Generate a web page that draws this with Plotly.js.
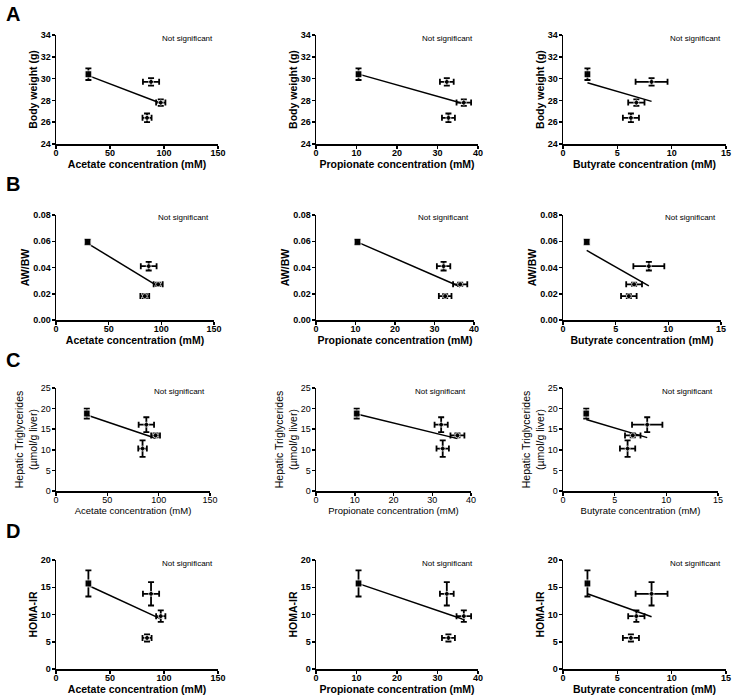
<!DOCTYPE html>
<html>
<head>
<meta charset="utf-8">
<script src="https://cdn.plot.ly/plotly-3.0.1.min.js"></script>
<style>
  html, body { margin: 0; padding: 0; background: #fff; }
  #chart { width: 733px; height: 697px; }
</style>
</head>
<body>
<div id="chart"></div>
<script>
// Group means (4 groups), x = SCFA concentration, y = outcome
const acetate = [30, 88, 97, 84.3];
const acetateErr = [1.5, 7.5, 4.3, 4.2];
const propionate = [10.5, 32.3, 36.5, 32.7];
const propionateErr = [0.4, 1.7, 1.8, 1.6];
const butyrate = [2.25, 8.15, 6.75, 6.25];
const butyrateErr = [0.15, 1.47, 0.75, 0.74];

const bodyWeight = [30.4, 29.7, 27.8, 26.4];
const bodyWeightErr = [0.53, 0.34, 0.3, 0.4];
const awbw = [0.0595, 0.041, 0.0272, 0.0182];
const awbwErr = [0.002, 0.0033, 0.0012, 0.0015];
const hepaticTG = [18.8, 16.1, 13.5, 10.3];
const hepaticTGErr = [1.2, 1.8, 0.5, 2.0];
const homaIR = [15.7, 13.8, 9.7, 5.7];
const homaIRErr = [2.4, 2.15, 1.05, 0.65];

const xLabels = ['Acetate concentration (mM)', 'Propionate concentration (mM)', 'Butyrate concentration (mM)'];
const xRanges = [[0, 150], [0, 40], [0, 15]];
const xTicks = [[0, 50, 100, 150], [0, 10, 20, 30, 40], [0, 5, 10, 15]];

const rowLetters = ['A', 'B', 'C', 'D'];
const yLabels = ['Body weight (g)', 'AW/BW', 'Hepatic Triglycerides<br>(µmol/g liver)', 'HOMA-IR'];
const yRanges = [[24, 34], [0, 0.08], [0, 25], [0, 20]];
const yTicks = [[24, 26, 28, 30, 32, 34], [0, 0.02, 0.04, 0.06, 0.08], [0, 5, 10, 15, 20, 25], [0, 5, 10, 15, 20]];
const yFormats = ['', '.2f', '', ''];

const xs = [acetate, propionate, butyrate];
const xErrs = [acetateErr, propionateErr, butyrateErr];
const ys = [bodyWeight, awbw, hepaticTG, homaIR];
const yErrs = [bodyWeightErr, awbwErr, hepaticTGErr, homaIRErr];

// pixel boxes of the plot areas
const W = 733, H = 697;
const rowPx = [[35, 144], [215, 320], [388, 491], [560, 669]];
const colPx = [
  [[56, 218], [316, 478], [563, 726]],
  [[56, 214], [316, 474], [563, 721]],
  [[56, 210], [316, 471], [563, 718]],
  [[56, 218], [316, 478], [563, 726]]
];
const letterY = [14, 184, 360, 531];

function regression(x, y) {
  const n = x.length;
  const mx = x.reduce((a, b) => a + b, 0) / n;
  const my = y.reduce((a, b) => a + b, 0) / n;
  let sxy = 0, sxx = 0;
  for (let i = 0; i < n; i++) {
    sxy += (x[i] - mx) * (y[i] - my);
    sxx += (x[i] - mx) * (x[i] - mx);
  }
  const slope = sxy / sxx;
  const x0 = Math.min(...x), x1 = Math.max(...x);
  return { x: [x0, x1], y: [my + slope * (x0 - mx), my + slope * (x1 - mx)] };
}

const data = [];
const layout = {
  width: W,
  height: H,
  margin: { l: 0, r: 0, t: 0, b: 0 },
  paper_bgcolor: '#fff',
  plot_bgcolor: '#fff',
  showlegend: false,
  font: { family: 'Arial, Liberation Sans, sans-serif', color: '#000' },
  annotations: []
};

for (let r = 0; r < 4; r++) {
  const plain = r === 2;
  const weight = plain ? 'normal' : 'bold';
  for (let c = 0; c < 3; c++) {
    const k = r * 3 + c + 1;
    const xa = 'x' + (k === 1 ? '' : k);
    const ya = 'y' + (k === 1 ? '' : k);
    const [px0, px1] = colPx[r][c];
    const [py0, py1] = rowPx[r];

    const fit = regression(xs[c], ys[r]);
    data.push({
      type: 'scatter', mode: 'lines',
      x: fit.x, y: fit.y,
      xaxis: xa, yaxis: ya,
      line: { color: '#000', width: 1.5 },
      hoverinfo: 'skip'
    });
    data.push({
      type: 'scatter', mode: 'markers',
      x: xs[c], y: ys[r],
      xaxis: xa, yaxis: ya,
      marker: {
        color: '#000',
        symbol: ['square', 'circle', 'circle', 'circle'],
        size: [7, 5, 5, 5]
      },
      error_x: { type: 'data', array: xErrs[c], visible: true, color: '#000', thickness: 1.8, width: 3 },
      error_y: { type: 'data', array: yErrs[r], visible: true, color: '#000', thickness: 1.8, width: 3 }
    });

    const axisBase = {
      showline: true, linecolor: '#000', linewidth: 1.5,
      ticks: 'outside', ticklen: 3, tickwidth: 1.5, tickcolor: '#000',
      showgrid: false, zeroline: false, automargin: false, fixedrange: true,
      tickfont: { size: 9, weight: weight, color: '#000' }
    };
    layout['xaxis' + (k === 1 ? '' : k)] = Object.assign({}, axisBase, {
      domain: [px0 / W, px1 / W],
      range: xRanges[c],
      tickvals: xTicks[c],
      anchor: ya,
      ticklabelstandoff: -3,
      title: { text: xLabels[c], font: { size: plain ? 9.5 : 10.5, weight: weight }, standoff: 2 }
    });
    layout['yaxis' + (k === 1 ? '' : k)] = Object.assign({}, axisBase, {
      domain: [1 - py1 / H, 1 - py0 / H],
      range: yRanges[r],
      tickvals: yTicks[r],
      tickformat: yFormats[r],
      anchor: xa,
      ticklabelstandoff: -1,
      title: { text: yLabels[r], font: { size: 10.5, weight: weight }, standoff: 1 }
    });

    layout.annotations.push({
      text: 'Not significant',
      xref: 'paper', yref: 'paper',
      x: (px1 - 3) / W, y: 1 - (py0 + 3) / H,
      xanchor: 'right', yanchor: 'middle',
      showarrow: false,
      font: { size: 8, color: '#000' }
    });
  }
  layout.annotations.push({
    text: rowLetters[r],
    xref: 'paper', yref: 'paper',
    x: 4 / W, y: 1 - letterY[r] / H,
    xanchor: 'left', yanchor: 'middle',
    showarrow: false,
    font: { size: 20, weight: 'bold', color: '#000' }
  });
}

Plotly.newPlot('chart', data, layout, { staticPlot: true });
</script>
</body>
</html>
